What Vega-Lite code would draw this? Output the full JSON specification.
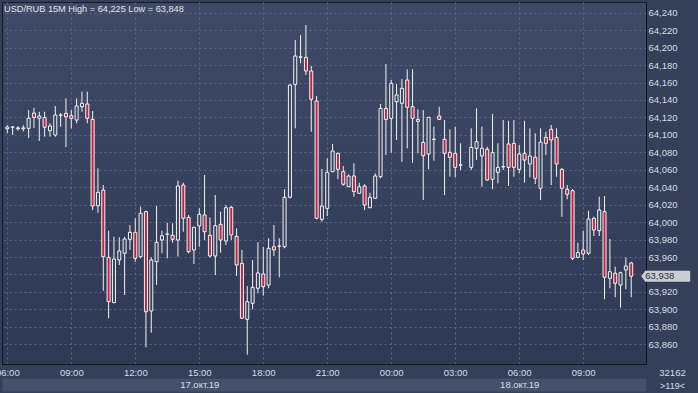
{
  "$schema": "https://vega.github.io/schema/vega-lite/v6.json",
  "width": 644,
  "height": 362,
  "autosize": {"type": "none"},
  "padding": {"left": 2, "top": 2, "right": 52, "bottom": 29},
  "background": "#343f5a",
  "config": {
    "view": {
      "fill": {"gradient": "linear", "x1": 0, "y1": 0, "x2": 0, "y2": 1, "stops": [{"offset": 0, "color": "#3e4a68"}, {"offset": 1, "color": "#2e3954"}]},
      "stroke": "#141925",
      "strokeWidth": 1
    },
    "font": "Liberation Sans",
    "axisY": {
      "labelExpr": "abs(datum.value - 63.94) < 0.0001 ? '' : replace(format(datum.value, '.3f'), '.', ',')",
      "labelFont": "Liberation Sans", "labelFontSize": 9.5, "labelColor": "#d9dde5",
      "labelPadding": 2, "labelAlign": "left", "labelBaseline": "middle",
      "ticks": false, "tickSize": 0,
      "domain": true, "domainColor": "#10141d", "domainWidth": 1,
      "grid": true, "gridColor": "#5b6885", "gridDash": [2, 3], "gridWidth": 1
    }
  },
  "title": {
    "text": "USD/RUB 15M High = 64,225 Low = 63,848",
    "anchor": "start",
    "frame": "group",
    "offset": -12,
    "dx": 2,
    "font": "Liberation Sans",
    "fontSize": 9.2,
    "fontWeight": "normal",
    "color": "#e4e7ec"
  },
  "datasets": {
    "candles": [
      {"t":"2019-10-17T06:00:00Z","o":64.107,"h":64.111,"l":64.102,"c":64.109},
      {"t":"2019-10-17T06:15:00Z","o":64.109,"h":64.110,"l":64.100,"c":64.1088},
      {"t":"2019-10-17T06:30:00Z","o":64.108,"h":64.110,"l":64.105,"c":64.107},
      {"t":"2019-10-17T06:45:00Z","o":64.107,"h":64.111,"l":64.104,"c":64.108},
      {"t":"2019-10-17T07:00:00Z","o":64.1075,"h":64.1285,"l":64.0964,"c":64.119},
      {"t":"2019-10-17T07:15:00Z","o":64.125,"h":64.131,"l":64.108,"c":64.120},
      {"t":"2019-10-17T07:30:00Z","o":64.119,"h":64.1265,"l":64.093,"c":64.1216},
      {"t":"2019-10-17T07:45:00Z","o":64.120,"h":64.1265,"l":64.098,"c":64.1087},
      {"t":"2019-10-17T08:00:00Z","o":64.1048,"h":64.1136,"l":64.098,"c":64.1102},
      {"t":"2019-10-17T08:15:00Z","o":64.0998,"h":64.1331,"l":64.098,"c":64.1228},
      {"t":"2019-10-17T08:30:00Z","o":64.1228,"h":64.125,"l":64.1094,"c":64.1225},
      {"t":"2019-10-17T08:45:00Z","o":64.1247,"h":64.1419,"l":64.0861,"c":64.1208},
      {"t":"2019-10-17T09:00:00Z","o":64.122,"h":64.1285,"l":64.1075,"c":64.119},
      {"t":"2019-10-17T09:15:00Z","o":64.117,"h":64.1419,"l":64.1133,"c":64.1331},
      {"t":"2019-10-17T09:30:00Z","o":64.1323,"h":64.1495,"l":64.1265,"c":64.1362},
      {"t":"2019-10-17T09:45:00Z","o":64.1354,"h":64.1495,"l":64.1133,"c":64.119},
      {"t":"2019-10-17T10:00:00Z","o":64.1178,"h":64.1274,"l":64.0139,"c":64.0185},
      {"t":"2019-10-17T10:15:00Z","o":64.0188,"h":64.0617,"l":64.0108,"c":64.0342},
      {"t":"2019-10-17T10:30:00Z","o":64.0368,"h":64.0425,"l":63.9214,"c":63.9604},
      {"t":"2019-10-17T10:45:00Z","o":63.9597,"h":63.9902,"l":63.8898,"c":63.9088},
      {"t":"2019-10-17T11:00:00Z","o":63.9077,"h":63.9833,"l":63.9073,"c":63.9577},
      {"t":"2019-10-17T11:15:00Z","o":63.9566,"h":63.9826,"l":63.9509,"c":63.9669},
      {"t":"2019-10-17T11:30:00Z","o":63.9643,"h":63.9833,"l":63.9165,"c":63.9807},
      {"t":"2019-10-17T11:45:00Z","o":63.9803,"h":63.9967,"l":63.9681,"c":63.9883},
      {"t":"2019-10-17T12:00:00Z","o":63.9883,"h":64.0044,"l":63.9546,"c":63.9585},
      {"t":"2019-10-17T12:15:00Z","o":63.9604,"h":64.0177,"l":63.9585,"c":64.0101},
      {"t":"2019-10-17T12:30:00Z","o":64.012,"h":64.0131,"l":63.8566,"c":63.8973},
      {"t":"2019-10-17T12:45:00Z","o":63.8981,"h":63.9597,"l":63.8733,"c":63.9566},
      {"t":"2019-10-17T13:00:00Z","o":63.9546,"h":64.0185,"l":63.9279,"c":63.9769},
      {"t":"2019-10-17T13:15:00Z","o":63.9795,"h":63.9902,"l":63.9643,"c":63.9844},
      {"t":"2019-10-17T13:30:00Z","o":63.9864,"h":63.9993,"l":63.9585,"c":63.986},
      {"t":"2019-10-17T13:45:00Z","o":63.9849,"h":63.9987,"l":63.9764,"c":63.9803},
      {"t":"2019-10-17T14:00:00Z","o":63.9795,"h":64.0475,"l":63.9604,"c":64.0414},
      {"t":"2019-10-17T14:15:00Z","o":64.0425,"h":64.0452,"l":63.989,"c":64.0044},
      {"t":"2019-10-17T14:30:00Z","o":64.0055,"h":64.0082,"l":63.9643,"c":63.9661},
      {"t":"2019-10-17T14:45:00Z","o":63.9681,"h":63.9945,"l":63.952,"c":63.9941},
      {"t":"2019-10-17T15:00:00Z","o":63.9956,"h":64.0158,"l":63.9718,"c":64.009},
      {"t":"2019-10-17T15:15:00Z","o":64.0082,"h":64.054,"l":63.9795,"c":63.989},
      {"t":"2019-10-17T15:30:00Z","o":63.9849,"h":64.0055,"l":63.9597,"c":63.9612},
      {"t":"2019-10-17T15:45:00Z","o":63.9612,"h":64.0311,"l":63.9394,"c":63.9959},
      {"t":"2019-10-17T16:00:00Z","o":63.9975,"h":64.012,"l":63.965,"c":63.9795},
      {"t":"2019-10-17T16:15:00Z","o":63.9784,"h":64.0196,"l":63.9738,"c":64.0165},
      {"t":"2019-10-17T16:30:00Z","o":64.017,"h":64.0185,"l":63.9795,"c":63.9853},
      {"t":"2019-10-17T16:45:00Z","o":63.9838,"h":63.9929,"l":63.9383,"c":63.9509},
      {"t":"2019-10-17T17:00:00Z","o":63.9528,"h":63.9681,"l":63.889,"c":63.8898},
      {"t":"2019-10-17T17:15:00Z","o":63.8886,"h":63.9268,"l":63.848,"c":63.9088},
      {"t":"2019-10-17T17:30:00Z","o":63.907,"h":63.9566,"l":63.9001,"c":63.9253},
      {"t":"2019-10-17T17:45:00Z","o":63.9242,"h":63.9769,"l":63.9184,"c":63.9417},
      {"t":"2019-10-17T18:00:00Z","o":63.9406,"h":63.9718,"l":63.9157,"c":63.926},
      {"t":"2019-10-17T18:15:00Z","o":63.9279,"h":63.9815,"l":63.9242,"c":63.97},
      {"t":"2019-10-17T18:30:00Z","o":63.9718,"h":63.9967,"l":63.9612,"c":63.9681},
      {"t":"2019-10-17T18:45:00Z","o":63.9726,"h":63.9815,"l":63.9368,"c":63.9724},
      {"t":"2019-10-17T19:00:00Z","o":63.9718,"h":64.0376,"l":63.97,"c":64.0285},
      {"t":"2019-10-17T19:15:00Z","o":64.0285,"h":64.158,"l":64.027,"c":64.1571},
      {"t":"2019-10-17T19:30:00Z","o":64.1579,"h":64.2087,"l":64.1075,"c":64.1904},
      {"t":"2019-10-17T19:45:00Z","o":64.1895,"h":64.2144,"l":64.182,"c":64.1889},
      {"t":"2019-10-17T20:00:00Z","o":64.1889,"h":64.2259,"l":64.1686,"c":64.1732},
      {"t":"2019-10-17T20:15:00Z","o":64.1732,"h":64.1789,"l":64.1036,"c":64.1408},
      {"t":"2019-10-17T20:30:00Z","o":64.1388,"h":64.1445,"l":64.0032,"c":64.0044},
      {"t":"2019-10-17T20:45:00Z","o":64.0032,"h":64.0609,"l":64.0005,"c":64.0185},
      {"t":"2019-10-17T21:00:00Z","o":64.0158,"h":64.0731,"l":64.007,"c":64.0571},
      {"t":"2019-10-17T21:15:00Z","o":64.0578,"h":64.0895,"l":64.0575,"c":64.0815},
      {"t":"2019-10-17T21:30:00Z","o":64.0789,"h":64.0796,"l":64.0491,"c":64.0605},
      {"t":"2019-10-17T21:45:00Z","o":64.0578,"h":64.0643,"l":64.0417,"c":64.0434},
      {"t":"2019-10-17T22:00:00Z","o":64.0406,"h":64.0548,"l":64.0403,"c":64.0529},
      {"t":"2019-10-17T22:15:00Z","o":64.0529,"h":64.0674,"l":64.0291,"c":64.0349},
      {"t":"2019-10-17T22:30:00Z","o":64.033,"h":64.0452,"l":64.0327,"c":64.0406},
      {"t":"2019-10-17T22:45:00Z","o":64.0414,"h":64.0434,"l":64.0139,"c":64.0196},
      {"t":"2019-10-17T23:00:00Z","o":64.0165,"h":64.0337,"l":64.0162,"c":64.0285},
      {"t":"2019-10-17T23:15:00Z","o":64.0273,"h":64.056,"l":64.027,"c":64.0529},
      {"t":"2019-10-17T23:30:00Z","o":64.0521,"h":64.1354,"l":64.0502,"c":64.1304},
      {"t":"2019-10-17T23:45:00Z","o":64.1304,"h":64.1812,"l":64.0769,"c":64.1178},
      {"t":"2019-10-18T00:00:00Z","o":64.119,"h":64.1629,"l":64.0796,"c":64.1591},
      {"t":"2019-10-18T00:15:00Z","o":64.138,"h":64.1583,"l":64.0941,"c":64.1457},
      {"t":"2019-10-18T00:30:00Z","o":64.1362,"h":64.164,"l":64.0692,"c":64.1534},
      {"t":"2019-10-18T00:45:00Z","o":64.1629,"h":64.1751,"l":64.0846,"c":64.1316},
      {"t":"2019-10-18T01:00:00Z","o":64.1323,"h":64.1751,"l":64.0681,"c":64.119},
      {"t":"2019-10-18T01:15:00Z","o":64.1155,"h":64.1293,"l":64.0789,"c":64.1178},
      {"t":"2019-10-18T01:30:00Z","o":64.0915,"h":64.1285,"l":64.0254,"c":64.0761},
      {"t":"2019-10-18T01:45:00Z","o":64.0781,"h":64.1205,"l":64.0605,"c":64.1201},
      {"t":"2019-10-18T02:00:00Z","o":64.0951,"h":64.1094,"l":64.0704,"c":64.0947},
      {"t":"2019-10-18T02:15:00Z","o":64.1216,"h":64.1323,"l":64.1175,"c":64.1178},
      {"t":"2019-10-18T02:30:00Z","o":64.0949,"h":64.117,"l":64.0311,"c":64.0789},
      {"t":"2019-10-18T02:45:00Z","o":64.08,"h":64.1064,"l":64.0521,"c":64.0743},
      {"t":"2019-10-18T03:00:00Z","o":64.0789,"h":64.1094,"l":64.0514,"c":64.0628},
      {"t":"2019-10-18T03:15:00Z","o":64.0657,"h":64.0903,"l":64.0597,"c":64.0653},
      {"t":"2019-10-18T03:45:00Z","o":64.0628,"h":64.1075,"l":64.0597,"c":64.0857},
      {"t":"2019-10-18T04:00:00Z","o":64.0846,"h":64.1304,"l":64.0712,"c":64.0922},
      {"t":"2019-10-18T04:15:00Z","o":64.0758,"h":64.1094,"l":64.0406,"c":64.0846},
      {"t":"2019-10-18T04:30:00Z","o":64.0835,"h":64.0864,"l":64.0475,"c":64.0483},
      {"t":"2019-10-18T04:45:00Z","o":64.0491,"h":64.1239,"l":64.0376,"c":64.0796},
      {"t":"2019-10-18T05:00:00Z","o":64.0571,"h":64.0903,"l":64.0445,"c":64.0628},
      {"t":"2019-10-18T05:15:00Z","o":64.0637,"h":64.117,"l":64.0597,"c":64.0633},
      {"t":"2019-10-18T05:30:00Z","o":64.0895,"h":64.1162,"l":64.0414,"c":64.0628},
      {"t":"2019-10-18T05:45:00Z","o":64.0903,"h":64.117,"l":64.0521,"c":64.0628},
      {"t":"2019-10-18T06:00:00Z","o":64.0605,"h":64.0884,"l":64.056,"c":64.0781},
      {"t":"2019-10-18T06:15:00Z","o":64.0789,"h":64.1162,"l":64.0452,"c":64.0712},
      {"t":"2019-10-18T06:30:00Z","o":64.0666,"h":64.1075,"l":64.0514,"c":64.0758},
      {"t":"2019-10-18T06:45:00Z","o":64.0743,"h":64.1018,"l":64.0437,"c":64.0502},
      {"t":"2019-10-18T07:00:00Z","o":64.0388,"h":64.1075,"l":64.0254,"c":64.0918},
      {"t":"2019-10-18T07:15:00Z","o":64.0972,"h":64.1036,"l":64.0769,"c":64.0903},
      {"t":"2019-10-18T07:30:00Z","o":64.1064,"h":64.1113,"l":64.0425,"c":64.0941},
      {"t":"2019-10-18T07:45:00Z","o":64.0972,"h":64.1075,"l":64.0521,"c":64.0666},
      {"t":"2019-10-18T08:00:00Z","o":64.0605,"h":64.0617,"l":64.0062,"c":64.0388},
      {"t":"2019-10-18T08:15:00Z","o":64.0376,"h":64.0425,"l":64.0262,"c":64.0319},
      {"t":"2019-10-18T08:30:00Z","o":64.036,"h":64.038,"l":63.9566,"c":63.9585},
      {"t":"2019-10-18T08:45:00Z","o":63.9597,"h":63.9764,"l":63.9585,"c":63.965},
      {"t":"2019-10-18T09:00:00Z","o":63.9681,"h":63.9902,"l":63.9566,"c":63.9635},
      {"t":"2019-10-18T09:15:00Z","o":63.9643,"h":64.0131,"l":63.9623,"c":64.0036},
      {"t":"2019-10-18T09:30:00Z","o":64.0044,"h":64.0062,"l":63.9841,"c":63.991},
      {"t":"2019-10-18T09:45:00Z","o":63.9902,"h":64.0291,"l":63.9841,"c":64.0139},
      {"t":"2019-10-18T10:00:00Z","o":64.012,"h":64.0299,"l":63.9116,"c":63.9368},
      {"t":"2019-10-18T10:15:00Z","o":63.9356,"h":63.9807,"l":63.9242,"c":63.9432},
      {"t":"2019-10-18T10:30:00Z","o":63.9414,"h":63.9489,"l":63.9139,"c":63.9299},
      {"t":"2019-10-18T10:45:00Z","o":63.9279,"h":63.9432,"l":63.9019,"c":63.942},
      {"t":"2019-10-18T11:00:00Z","o":63.9451,"h":63.9597,"l":63.923,"c":63.9497},
      {"t":"2019-10-18T11:15:00Z","o":63.9532,"h":63.9546,"l":63.9139,"c":63.938}
    ],
    "last": [
      {"t":"2019-10-18T11:15:00Z","price":63.938,"label":"63,938"}
    ]
  },
  "resolve": {"axis": {"x": "independent"}},
  "layer": [
    {
      "data": {"name": "candles"},
      "mark": {"type": "rule", "opacity": 0},
      "encoding": {
        "x": {
          "field": "t", "type": "temporal",
          "scale": {"type": "utc", "domain": [{"year":2019,"month":10,"date":17,"hours":5,"minutes":59,"seconds":10,"utc":true},{"year":2019,"month":10,"date":18,"hours":11,"minutes":42,"seconds":33,"utc":true}]},
          "axis": {
            "orient": "bottom", "offset": 20.5, "domain": true, "domainColor": "#45516b", "domainWidth": 13,
            "labels": false, "ticks": false, "grid": false, "zindex": 0,
            "title": ">119<", "titleX": 670, "titleY": 0.5, "titleAngle": 0, "titleAlign": "center", "titleBaseline": "middle",
            "titleFont": "Liberation Sans", "titleFontSize": 9, "titleFontWeight": "normal", "titleColor": "#d9dde5"
          }
        },
        "y": {
          "field": "l", "type": "quantitative",
          "scale": {"domain": [63.8374, 64.2523], "nice": false, "zero": false},
          "axis": {"orient": "right", "title": null, "values": [63.86, 63.88, 63.9, 63.92, 63.94, 63.96, 63.98, 64.0, 64.02, 64.04, 64.06, 64.08, 64.1, 64.12, 64.14, 64.16, 64.18, 64.2, 64.22, 64.24]}
        },
        "y2": {"field": "h"}
      }
    },
    {
      "data": {"name": "candles"},
      "mark": {"type": "rule", "color": "#f4f4f4", "strokeWidth": 1},
      "encoding": {
        "x": {
          "field": "t", "type": "temporal",
          "scale": {"type": "utc", "domain": [{"year":2019,"month":10,"date":17,"hours":5,"minutes":59,"seconds":10,"utc":true},{"year":2019,"month":10,"date":18,"hours":11,"minutes":42,"seconds":33,"utc":true}]},
          "axis": {
            "orient": "bottom", "zindex": 0,
            "title": "32162", "titleX": 670, "titleY": 8, "titleAngle": 0, "titleAlign": "center", "titleBaseline": "middle",
            "titleFont": "Liberation Sans", "titleFontSize": 9.5, "titleFontWeight": "normal", "titleColor": "#d9dde5",
            "values": [
              {"year":2019,"month":10,"date":17,"hours":6,"utc":true},
              {"year":2019,"month":10,"date":17,"hours":9,"utc":true},
              {"year":2019,"month":10,"date":17,"hours":12,"utc":true},
              {"year":2019,"month":10,"date":17,"hours":15,"utc":true},
              {"year":2019,"month":10,"date":17,"hours":18,"utc":true},
              {"year":2019,"month":10,"date":17,"hours":21,"utc":true},
              {"year":2019,"month":10,"date":18,"hours":0,"utc":true},
              {"year":2019,"month":10,"date":18,"hours":3,"utc":true},
              {"year":2019,"month":10,"date":18,"hours":6,"utc":true},
              {"year":2019,"month":10,"date":18,"hours":9,"utc":true}
            ],
            "labelExpr": "utcdate(datum.value) == 17 && utchours(datum.value) == 15 ? [utcFormat(datum.value, '%H:%M'), '17.окт.19'] : (utcdate(datum.value) == 18 && utchours(datum.value) == 6 ? [utcFormat(datum.value, '%H:%M'), '18.окт.19'] : utcFormat(datum.value, '%H:%M'))",
            "labelFont": "Liberation Sans", "labelFontSize": 9.5, "labelColor": "#d9dde5",
            "labelBaseline": "top", "labelPadding": 3, "labelLineHeight": 12,
            "labelOverlap": false, "labelFlush": false, "labelBound": false,
            "ticks": false, "tickSize": 0,
            "domain": true, "domainColor": "#10141d", "domainWidth": 1,
            "grid": true, "gridColor": "#5b6885", "gridDash": [2, 3], "gridWidth": 1
          }
        },
        "y": {
          "field": "l", "type": "quantitative",
          "scale": {"domain": [63.8374, 64.2523], "nice": false, "zero": false},
          "axis": {"orient": "right", "title": null, "values": [63.86, 63.88, 63.9, 63.92, 63.94, 63.96, 63.98, 64.0, 64.02, 64.04, 64.06, 64.08, 64.1, 64.12, 64.14, 64.16, 64.18, 64.2, 64.22, 64.24]}
        },
        "y2": {"field": "h"}
      }
    },
    {
      "data": {"name": "candles"},
      "mark": {"type": "bar", "width": 3, "stroke": "#f4f4f4", "strokeWidth": 1},
      "encoding": {
        "x": {
          "field": "t", "type": "temporal",
          "scale": {"type": "utc", "domain": [{"year":2019,"month":10,"date":17,"hours":5,"minutes":59,"seconds":10,"utc":true},{"year":2019,"month":10,"date":18,"hours":11,"minutes":42,"seconds":33,"utc":true}]},
          "axis": null
        },
        "y": {
          "field": "o", "type": "quantitative",
          "scale": {"domain": [63.8374, 64.2523], "nice": false, "zero": false},
          "axis": {"orient": "right", "title": null, "values": [63.86, 63.88, 63.9, 63.92, 63.94, 63.96, 63.98, 64.0, 64.02, 64.04, 64.06, 64.08, 64.1, 64.12, 64.14, 64.16, 64.18, 64.2, 64.22, 64.24]}
        },
        "y2": {"field": "c"},
        "fill": {"condition": {"test": "datum.c < datum.o", "value": "#c3223f"}, "value": "#36425e"}
      }
    },
    {
      "data": {"name": "last"},
      "mark": {"type": "point", "shape": "M10,0 L14,-5.5 L59,-5.5 L59,5.5 L14,5.5 Z", "size": 4, "filled": true, "fill": "#c9cdd4", "stroke": null, "opacity": 1},
      "encoding": {
        "x": {
          "field": "t", "type": "temporal",
          "scale": {"type": "utc", "domain": [{"year":2019,"month":10,"date":17,"hours":5,"minutes":59,"seconds":10,"utc":true},{"year":2019,"month":10,"date":18,"hours":11,"minutes":42,"seconds":33,"utc":true}]},
          "axis": null
        },
        "y": {
          "field": "price", "type": "quantitative",
          "scale": {"domain": [63.8374, 64.2523], "nice": false, "zero": false},
          "axis": {"orient": "right", "title": null, "values": [63.86, 63.88, 63.9, 63.92, 63.94, 63.96, 63.98, 64.0, 64.02, 64.04, 64.06, 64.08, 64.1, 64.12, 64.14, 64.16, 64.18, 64.2, 64.22, 64.24]}
        }
      }
    },
    {
      "data": {"name": "last"},
      "mark": {"type": "text", "align": "left", "baseline": "middle", "dx": 14, "font": "Liberation Sans", "fontSize": 9.5, "color": "#2b303b"},
      "encoding": {
        "x": {
          "field": "t", "type": "temporal",
          "scale": {"type": "utc", "domain": [{"year":2019,"month":10,"date":17,"hours":5,"minutes":59,"seconds":10,"utc":true},{"year":2019,"month":10,"date":18,"hours":11,"minutes":42,"seconds":33,"utc":true}]},
          "axis": null
        },
        "y": {
          "field": "price", "type": "quantitative",
          "scale": {"domain": [63.8374, 64.2523], "nice": false, "zero": false},
          "axis": {"orient": "right", "title": null, "values": [63.86, 63.88, 63.9, 63.92, 63.94, 63.96, 63.98, 64.0, 64.02, 64.04, 64.06, 64.08, 64.1, 64.12, 64.14, 64.16, 64.18, 64.2, 64.22, 64.24]}
        },
        "text": {"field": "label"}
      }
    }
  ]
}
